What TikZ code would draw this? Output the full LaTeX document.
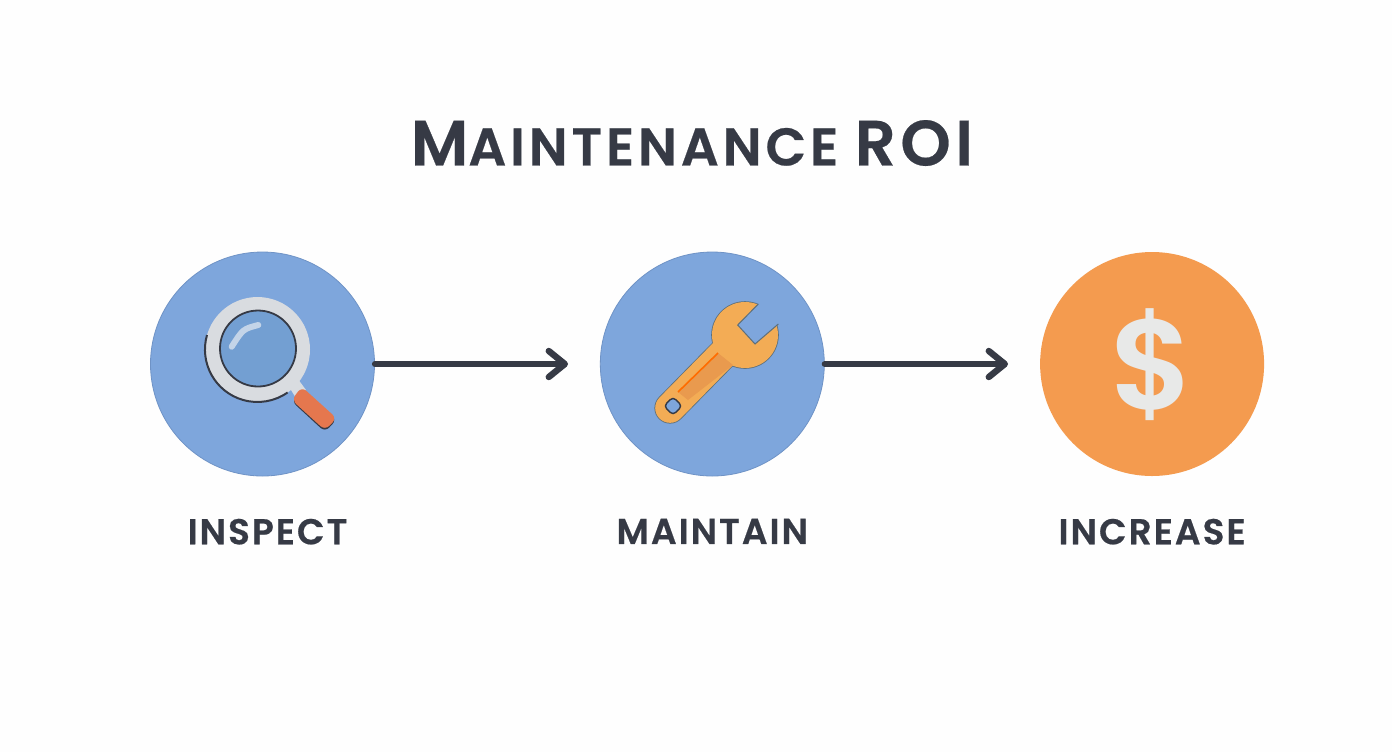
\documentclass[tikz,border=0pt]{standalone}
\usepackage{fontspec}
\setmainfont{Poppins}
\newfontfamily\titlefont{Poppins SemiBold}[LetterSpace=7.3,FakeBold=0.4]
\newfontfamily\labelfont{Poppins SemiBold}[LetterSpace=5.5,FakeBold=0.5]
\newfontfamily\signfont{Poppins SemiBold}
\usetikzlibrary{arrows.meta}
\usetikzlibrary{positioning}
\definecolor{paperwhite}{HTML}{FEFEFE}
\definecolor{inkgray}{HTML}{363A45}
\definecolor{discblue}{HTML}{7EA6DC}
\definecolor{discedge}{HTML}{6F93C6}
\definecolor{discorange}{HTML}{F49B4F}
\definecolor{ringgray}{HTML}{D9DCE0}
\definecolor{lensblue}{HTML}{739FD2}
\definecolor{glintblue}{HTML}{C3D4E8}
\definecolor{gripred}{HTML}{E5774E}
\definecolor{wrenchyellow}{HTML}{F3AC55}
\definecolor{wrenchdark}{HTML}{E99A4E}
\definecolor{wrenchedge}{HTML}{5F6F78}
\definecolor{signgray}{HTML}{E8E9E8}

\begin{document}
\begin{tikzpicture}[x=0.5pt,y=-0.5pt,
	disc/.style={circle,minimum size=112pt,inner sep=0pt},
	steplabel/.style={text=inkgray,inner sep=0pt,font=\labelfont\fontsize{18}{20}\selectfont},
	flow/.style={draw=inkgray,line width=3pt,line cap=round,-{Straight Barb[length=8pt,width=13pt,line width=3.2pt,round]}}]
	\useasboundingbox[fill=paperwhite] (0,0) rectangle (1392,752);

	% Place nodes
	\node [disc,fill=discblue,draw=discedge,line width=0.4pt] (inspect) at (262.5,364) {};
	\node [disc,fill=discblue,draw=discedge,line width=0.4pt,right=112.5pt of inspect] (maintain) {};
	\node [disc,fill=discorange,right=107.5pt of maintain] (increase) {};

	\node [text=inkgray,inner sep=0pt] (title) at (692,143) {\titlefont\fontsize{26.5}{30}\selectfont{\fontsize{32}{30}\selectfont M}AINTENANCE {\fontsize{32}{30}\selectfont ROI}};
	\node [steplabel,below=21pt of inspect,xshift=2.5pt] (inspectlabel) {INSPECT};
	\node [steplabel,below=21pt of maintain] (maintainlabel) {MAINTAIN};
	\node [steplabel,below=21pt of increase] (increaselabel) {INCREASE};

	% Place arrows
	\coordinate (end1) at (568,364);
	\coordinate (end2) at (1008,364);
	\draw [flow] (inspect.east) -- (end1);
	\draw [flow] (maintain.east) -- (end2);

	% Magnifying glass
	\fill [ringgray] (286,382) -- (295,375) -- (306,390) -- (296,398) -- cycle;
	\fill [inkgray,rounded corners=3pt] (301.7,388) -- (291.7,401.3) -- (325,432) -- (336.7,419.6) -- cycle;
	\fill [gripred,rounded corners=3pt] (301.7,386.7) -- (291.7,400) -- (325,430.2) -- (336.7,418.3) -- cycle;
	\fill [ringgray] (257.5,349.5) circle (26.25pt);
	\draw [inkgray,line width=1pt] (207,335) arc (196:55:52.5);
	\fill [lensblue] (258,348.5) circle (19pt);
	\draw [inkgray,line width=0.9pt] (258,348.5) circle (19pt);
	\draw [glintblue,line width=3pt,line cap=round] (258.3,325) .. controls (243,329) .. (231.7,346.7);

	% Wrench
	\fill [wrenchedge] (745,335) circle (16.9pt);
	\draw [wrenchedge,line width=15.6pt,line cap=round] (670,408) -- (725,352);
	\draw [wrenchyellow,line width=14.8pt,line cap=round] (670,408) -- (725,352);
	\fill [wrenchyellow] (745,335) circle (16.5pt);
	\fill [wrenchdark] (718,353) -- (733,365) -- (688,400) -- (678,392) -- cycle;
	\draw [orange!85!red,line width=0.8pt] (718,353) -- (678,392);
	\fill [discblue] (758.3,304) -- (737.7,325) -- (755,344) -- (778.3,324) -- (790,296) -- (766,292) -- cycle;
	\draw [wrenchedge,line width=0.5pt] (758.3,304) -- (737.7,325) -- (755,344) -- (778.3,324);
	\fill [discblue,draw=inkgray,line width=0.7pt,rounded corners=2pt,rotate around={45:(673,406)}] (666.5,399.5) rectangle (679.5,412.5);

	% Dollar sign
	\node [text=signgray,inner sep=0pt,font=\signfont\fontsize{64}{70}\selectfont] (dollar) at (1152.5,364.5) {\$};
\end{tikzpicture}
\end{document}
